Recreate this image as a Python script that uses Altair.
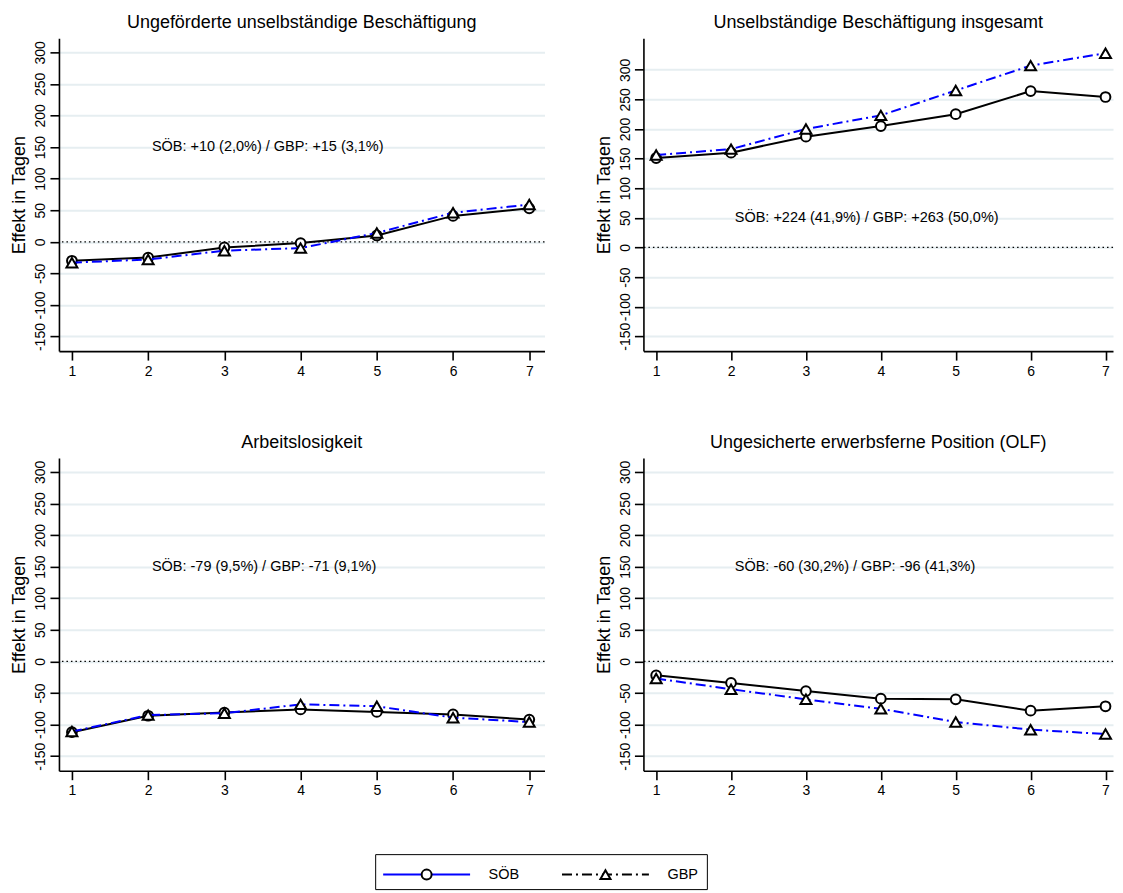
import altair as alt
import pandas as pd

# ---------------- data ----------------
periods = [1, 2, 3, 4, 5, 6, 7]
groups = ["SÖB", "GBP"]

panel_titles = [
    "Ungeförderte unselbständige Beschäftigung",
    "Unselbständige Beschäftigung insgesamt",
    "Arbeitslosigkeit",
    "Ungesicherte erwerbsferne Position (OLF)",
]

soeb_ungefoerdert = [-30, -25, -9, -2, 10, 41, 53]
gbp_ungefoerdert = [-33, -28, -14, -10, 14, 46, 59]

soeb_insgesamt = [151, 160, 187, 205, 225, 264, 254]
gbp_insgesamt = [156, 166, 200, 223, 265, 307, 328]

soeb_arbeitslos = [-112, -86, -81, -76, -80, -84, -92]
gbp_arbeitslos = [-111, -85, -82, -68, -71, -89, -96]

soeb_olf = [-22, -34, -47, -59, -60, -78, -71]
gbp_olf = [-27, -44, -60, -75, -96, -108, -115]

y_ticks = [-150, -100, -50, 0, 50, 100, 150, 200, 250, 300]

annotation_texts = [
    "SÖB: +10 (2,0%) / GBP: +15 (3,1%)",
    "SÖB: +224 (41,9%) / GBP: +263 (50,0%)",
    "SÖB: -79 (9,5%) / GBP: -71 (9,1%)",
    "SÖB: -60 (30,2%) / GBP: -96 (41,3%)",
]
annotation_x = [2.05, 2.05, 2.05, 2.05]
annotation_y = [150, 50, 150, 150]

# ---------------- styling ----------------
FONT = "Liberation Sans"
BLUE = "#0000ff"
GRID = "#e6eef1"
H = 313
widths = [486, 470, 486, 470]
x_domains = [[0.83, 7.2], [0.83, 7.1], [0.83, 7.2], [0.83, 7.1]]
series = [
    (soeb_ungefoerdert, gbp_ungefoerdert),
    (soeb_insgesamt, gbp_insgesamt),
    (soeb_arbeitslos, gbp_arbeitslos),
    (soeb_olf, gbp_olf),
]
y_domains = [[-173, 322], [-175, 353], [-173, 322], [-173, 322]]


def panel(i):
    soeb, gbp = series[i]
    df = pd.DataFrame({
        "Periode": periods + periods,
        "Effekt": soeb + gbp,
        "Gruppe": ["SÖB"] * len(periods) + ["GBP"] * len(periods),
    })
    xenc = alt.X(
        "Periode:Q",
        scale=alt.Scale(domain=x_domains[i], nice=False, zero=False),
        axis=alt.Axis(values=periods, title=None, grid=False, format="d",
                      domainColor="black", domainWidth=1.6, tickColor="black",
                      tickWidth=1.6, tickSize=9, labelPadding=4, labelFontSize=14,
                      labelFont=FONT, labelColor="black"),
    )
    yenc = alt.Y(
        "Effekt:Q",
        scale=alt.Scale(domain=y_domains[i], nice=False, zero=False),
        axis=alt.Axis(values=y_ticks, title="Effekt in Tagen", grid=True,
                      gridColor=GRID, gridWidth=2, domainColor="black",
                      domainWidth=1.6, tickColor="black", tickWidth=1.6,
                      tickSize=9, labelAngle=270, labelAlign="center",
                      labelBaseline="bottom", labelPadding=2, labelFontSize=14,
                      labelOverlap=False, labelExpr="toString(datum.value)",
                      labelFont=FONT, labelColor="black", titleFont=FONT,
                      titleFontSize=18, titleFontWeight="normal",
                      titleColor="black", titlePadding=5),
    )
    zero = alt.Chart(pd.DataFrame({"Effekt": [0]})).mark_rule(
        color="black", strokeDash=[1.5, 3], strokeWidth=1.3
    ).encode(y=yenc)
    s_df = alt.Chart(df).transform_filter(alt.datum.Gruppe == "SÖB")
    g_df = alt.Chart(df).transform_filter(alt.datum.Gruppe == "GBP")
    s_line = s_df.mark_line(color="black", strokeWidth=2).encode(x=xenc, y=yenc)
    s_pts = s_df.mark_point(shape="circle", filled=True, fill="white", stroke="black",
                            strokeWidth=2, size=95, opacity=1).encode(x=xenc, y=yenc)
    g_line = g_df.mark_line(color=BLUE, strokeWidth=2, strokeDash=[10, 4, 2, 4]).encode(x=xenc, y=yenc)
    g_pts = g_df.mark_point(shape="triangle-up", filled=True, fill="white", stroke="black",
                            strokeWidth=2, size=120, opacity=1).encode(x=xenc, y=yenc)
    txt = alt.Chart(pd.DataFrame({
        "Periode": [annotation_x[i]],
        "Effekt": [annotation_y[i]],
        "Text": [annotation_texts[i]],
    })).mark_text(align="left", baseline="middle", fontSize=14.5, font=FONT,
                  color="black").encode(x=xenc, y=yenc, text="Text:N")
    return alt.layer(zero, s_line, s_pts, g_line, g_pts, txt).properties(
        width=widths[i], height=H,
        title=alt.TitleParams(panel_titles[i], fontSize=18, font=FONT,
                              fontWeight="normal", anchor="middle",
                              offset=6, color="black"),
    )


# ---------------- legend ----------------
leg_df = pd.DataFrame({"Gruppe": groups})
leg_x = alt.X("Gruppe:N",
              scale=alt.Scale(type="point", domain=groups, range=[368, 547], padding=0),
              axis=None)
leg_y = alt.value(-3)
box = alt.Chart(pd.DataFrame({"a": [0]})).mark_rect(
    filled=False, stroke="black", strokeWidth=1
).encode(x=alt.value(317), x2=alt.value(649), y=alt.value(-23), y2=alt.value(12))
leg_base = alt.Chart(leg_df)
leg_line_s = leg_base.transform_filter(alt.datum.Gruppe == "SÖB").mark_point(
    shape="stroke", size=87 * 87, strokeWidth=2, color=BLUE, opacity=1
).encode(x=leg_x, y=leg_y)
leg_line_g = leg_base.transform_filter(alt.datum.Gruppe == "GBP").mark_point(
    shape="stroke", size=87 * 87, strokeWidth=2, color="black", opacity=1,
    strokeDash=[10, 4, 2, 4]
).encode(x=leg_x, y=leg_y)
leg_sym = leg_base.mark_point(filled=True, fill="white", stroke="black", strokeWidth=2,
                              size=100, opacity=1).encode(
    x=leg_x, y=leg_y,
    shape=alt.Shape("Gruppe:N", scale=alt.Scale(domain=groups, range=["circle", "triangle-up"]),
                    legend=None),
)
leg_txt = leg_base.mark_text(align="left", baseline="middle", dx=62, fontSize=14.5,
                             font=FONT, color="black").encode(x=leg_x, y=leg_y, text="Gruppe:N")
legend = alt.layer(box, leg_line_s, leg_line_g, leg_sym, leg_txt).properties(width=470, height=12)

chart = alt.concat(
    panel(0), panel(1), panel(2), panel(3), legend,
    columns=2, spacing={"row": 107, "column": 99}, bounds="flush",
).configure_view(stroke=None).properties(
    background="white", padding={"left": 3, "top": 6, "right": 0, "bottom": 0}
)

chart.save("out.html", embed_options={"renderer": "svg", "actions": False})
